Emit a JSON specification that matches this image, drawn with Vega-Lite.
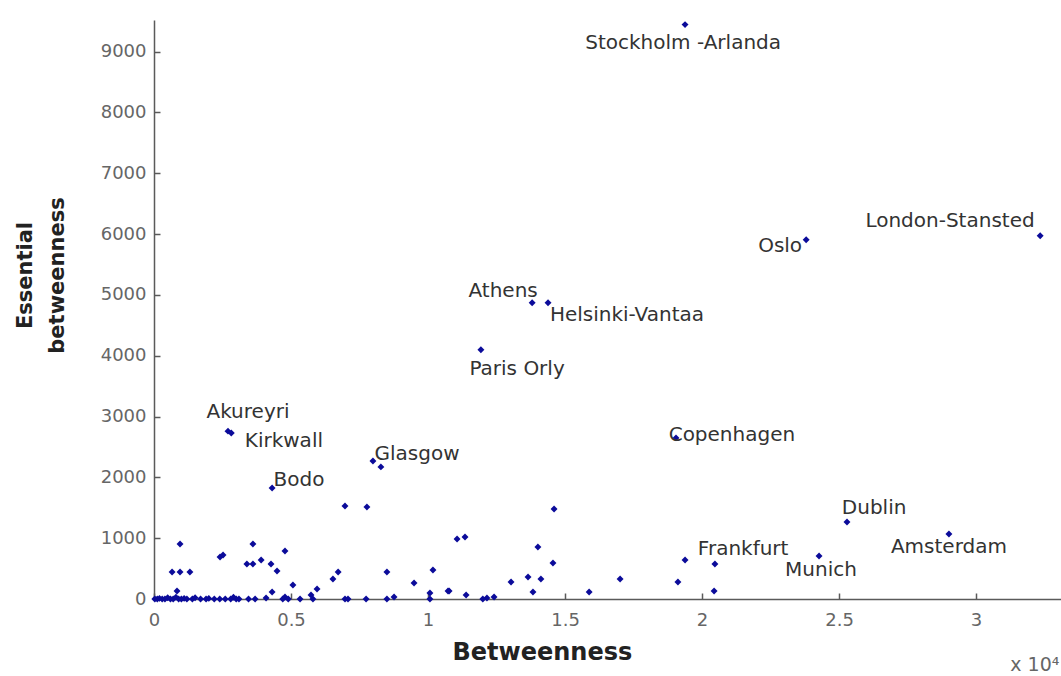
{
  "$schema": "https://vega.github.io/schema/vega-lite/v6.json",
  "width": 907,
  "height": 579,
  "autosize": "none",
  "padding": {"left": 154, "top": 20, "right": 0, "bottom": 77},
  "background": "white",
  "config": {
    "view": {"stroke": null},
    "axis": {
      "grid": false,
      "domainColor": "#5a5a5a",
      "domainWidth": 1.5,
      "tickColor": "#5a5a5a",
      "tickWidth": 1.5,
      "tickSize": -6,
      "labelFont": "DejaVu Sans",
      "labelFontSize": 18,
      "labelColor": "#666666",
      "labelFlush": false,
      "titleFont": "DejaVu Sans",
      "titleFontWeight": "bold",
      "titleFontSize": 21,
      "titleColor": "#222222"
    }
  },
  "datasets": {
    "points": [
      {"b": 1.938, "e": 9444}, {"b": 2.380, "e": 5907}, {"b": 3.234, "e": 5972},
      {"b": 1.380, "e": 4870}, {"b": 1.438, "e": 4870}, {"b": 1.193, "e": 4097},
      {"b": 0.270, "e": 2760}, {"b": 0.282, "e": 2730}, {"b": 0.799, "e": 2270},
      {"b": 0.828, "e": 2172}, {"b": 0.431, "e": 1826}, {"b": 1.905, "e": 2649},
      {"b": 2.529, "e": 1267}, {"b": 2.901, "e": 1069}, {"b": 1.938, "e": 642},
      {"b": 2.427, "e": 707},
      {"b": 1.460, "e": 1481}, {"b": 1.106, "e": 987}, {"b": 1.135, "e": 1020},
      {"b": 1.401, "e": 856}, {"b": 1.456, "e": 592}, {"b": 1.303, "e": 280},
      {"b": 1.365, "e": 362}, {"b": 1.412, "e": 329}, {"b": 1.383, "e": 115},
      {"b": 1.588, "e": 115}, {"b": 1.701, "e": 329}, {"b": 1.077, "e": 132},
      {"b": 1.139, "e": 66}, {"b": 1.215, "e": 16}, {"b": 1.241, "e": 33},
      {"b": 2.047, "e": 576}, {"b": 1.912, "e": 280}, {"b": 2.044, "e": 132},
      {"b": 0.697, "e": 1530}, {"b": 0.777, "e": 1514}, {"b": 0.095, "e": 905},
      {"b": 0.361, "e": 905}, {"b": 0.478, "e": 790}, {"b": 0.241, "e": 691},
      {"b": 0.252, "e": 724}, {"b": 0.066, "e": 444}, {"b": 0.095, "e": 444},
      {"b": 0.131, "e": 444}, {"b": 0.339, "e": 576}, {"b": 0.361, "e": 576},
      {"b": 0.391, "e": 642}, {"b": 0.427, "e": 576}, {"b": 0.449, "e": 461},
      {"b": 0.084, "e": 132}, {"b": 0.507, "e": 230}, {"b": 0.431, "e": 115},
      {"b": 0.478, "e": 33}, {"b": 0.409, "e": 16}, {"b": 0.369, "e": 0},
      {"b": 0.595, "e": 164}, {"b": 0.573, "e": 66}, {"b": 0.580, "e": 0},
      {"b": 0.653, "e": 329}, {"b": 0.672, "e": 444}, {"b": 0.850, "e": 444},
      {"b": 0.697, "e": 0}, {"b": 0.708, "e": 0}, {"b": 0.774, "e": 0},
      {"b": 0.850, "e": 0}, {"b": 0.876, "e": 33}, {"b": 0.949, "e": 263},
      {"b": 1.018, "e": 477}, {"b": 1.007, "e": 99}, {"b": 1.007, "e": 0},
      {"b": 1.073, "e": 132}, {"b": 0.533, "e": 0},
      {"b": 0.003, "e": 0}, {"b": 0.012, "e": 0}, {"b": 0.020, "e": 10},
      {"b": 0.030, "e": 0}, {"b": 0.040, "e": 0}, {"b": 0.050, "e": 20},
      {"b": 0.060, "e": 0}, {"b": 0.070, "e": 0}, {"b": 0.080, "e": 30},
      {"b": 0.090, "e": 0}, {"b": 0.100, "e": 0}, {"b": 0.110, "e": 10},
      {"b": 0.120, "e": 0}, {"b": 0.140, "e": 0}, {"b": 0.150, "e": 20},
      {"b": 0.170, "e": 0}, {"b": 0.190, "e": 0}, {"b": 0.200, "e": 10},
      {"b": 0.220, "e": 0}, {"b": 0.240, "e": 0}, {"b": 0.260, "e": 0},
      {"b": 0.280, "e": 0}, {"b": 0.290, "e": 30}, {"b": 0.300, "e": 0},
      {"b": 0.310, "e": 0}, {"b": 0.470, "e": 0}, {"b": 0.490, "e": 0},
      {"b": 0.345, "e": 0}, {"b": 1.200, "e": 0}
    ],
    "labels": [
      {"name": "Stockholm -Arlanda", "lx": 1.931, "ly": 9148},
      {"name": "Oslo", "lx": 2.285, "ly": 5808},
      {"name": "London-Stansted", "lx": 2.905, "ly": 6219},
      {"name": "Athens", "lx": 1.274, "ly": 5067},
      {"name": "Helsinki-Vantaa", "lx": 1.726, "ly": 4673},
      {"name": "Paris Orly", "lx": 1.325, "ly": 3784},
      {"name": "Akureyri", "lx": 0.343, "ly": 3077},
      {"name": "Kirkwall", "lx": 0.474, "ly": 2600},
      {"name": "Glasgow", "lx": 0.960, "ly": 2386},
      {"name": "Bodo", "lx": 0.529, "ly": 1958},
      {"name": "Copenhagen", "lx": 2.109, "ly": 2698},
      {"name": "Dublin", "lx": 2.628, "ly": 1497},
      {"name": "Amsterdam", "lx": 2.901, "ly": 856},
      {"name": "Frankfurt", "lx": 2.150, "ly": 823},
      {"name": "Munich", "lx": 2.434, "ly": 477}
    ]
  },
  "layer": [
    {
      "data": {"name": "points"},
      "mark": {"type": "point", "shape": "diamond", "filled": true, "size": 48, "color": "#0b0b9a", "opacity": 1},
      "encoding": {
        "x": {
          "field": "b", "type": "quantitative",
          "scale": {"domain": [0, 3.31], "nice": false, "zero": true},
          "axis": {
            "values": [0, 0.5, 1, 1.5, 2, 2.5, 3],
            "format": "~g",
            "labelPadding": 18,
            "title": "Betweenness",
            "titleFontSize": 24,
            "titleAnchor": "start",
            "titleX": 298,
            "titleY": 41,
            "titleBaseline": "top"
          }
        },
        "y": {
          "field": "e", "type": "quantitative",
          "scale": {"domain": [0, 9520], "nice": false, "zero": true},
          "axis": {
            "values": [0, 1000, 2000, 3000, 4000, 5000, 6000, 7000, 8000, 9000],
            "format": "d",
            "labelPadding": 14,
            "title": ["Essential", "betweenness"],
            "titleAngle": -90,
            "titleAlign": "center",
            "titleBaseline": "top",
            "titleLineHeight": 32,
            "titleX": -140,
            "titleY": 255
          }
        }
      }
    },
    {
      "data": {"name": "labels"},
      "mark": {"type": "text", "font": "DejaVu Sans", "fontSize": 20, "color": "#333333", "align": "center", "baseline": "middle"},
      "encoding": {
        "x": {"field": "lx", "type": "quantitative"},
        "y": {"field": "ly", "type": "quantitative"},
        "text": {"field": "name"}
      }
    },
    {
      "data": {"values": [{"t": "x 10⁴", "tx": 3.125, "ty": -1086}]},
      "mark": {"type": "text", "font": "DejaVu Sans", "fontSize": 19, "color": "#666666", "align": "left", "baseline": "middle"},
      "encoding": {
        "x": {"field": "tx", "type": "quantitative"},
        "y": {"field": "ty", "type": "quantitative"},
        "text": {"field": "t"}
      }
    }
  ]
}
